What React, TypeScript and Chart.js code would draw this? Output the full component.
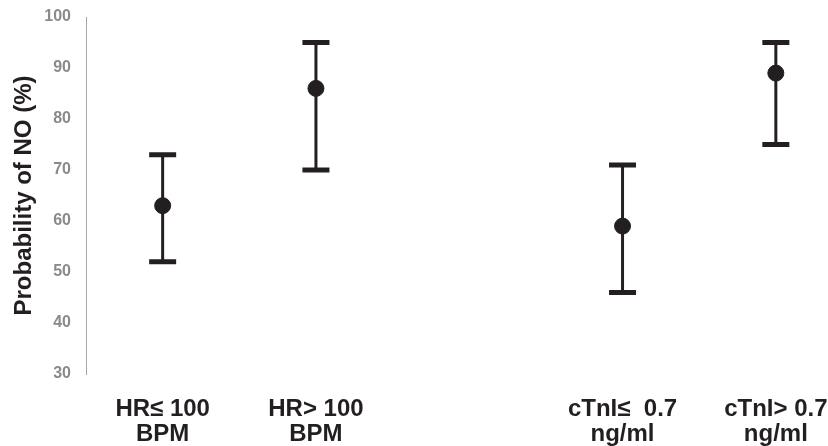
import React, { useEffect, useRef } from "react";
import { Chart, registerables } from "chart.js";

Chart.register(...registerables);

const categories: string[][] = [
  ["HR≤ 100", "BPM"],
  ["HR> 100", "BPM"],
  ["cTnI≤  0.7", "ng/ml"],
  ["cTnI> 0.7", "ng/ml"],
];
const xPositions = [1, 2, 4, 5];
const means = [63, 86, 59, 89];
const lower = [52, 70, 46, 75];
const upper = [73, 95, 71, 95];
const yTicks = [30, 40, 50, 60, 70, 80, 90, 100];

const INK = "#231f20";
const FONT = "'Liberation Sans', Arial, Helvetica, sans-serif";

const errorBarPlugin = {
  id: "errorBars",
  beforeDatasetsDraw(chart: any) {
    const { ctx, scales } = chart;
    const xs = scales.x;
    const ys = scales.y;
    ctx.save();
    ctx.strokeStyle = INK;
    xPositions.forEach((xv, i) => {
      const px = xs.getPixelForValue(xv);
      const pLo = ys.getPixelForValue(lower[i]);
      const pHi = ys.getPixelForValue(upper[i]);
      ctx.lineWidth = 3;
      ctx.beginPath();
      ctx.moveTo(px, pLo);
      ctx.lineTo(px, pHi);
      ctx.stroke();
      ctx.lineWidth = 5;
      const half = 13.5;
      ctx.beginPath();
      ctx.moveTo(px - half, pLo);
      ctx.lineTo(px + half, pLo);
      ctx.moveTo(px - half, pHi);
      ctx.lineTo(px + half, pHi);
      ctx.stroke();
    });
    ctx.restore();
  },
};

export default function App() {
  const ref = useRef<HTMLCanvasElement | null>(null);

  useEffect(() => {
    document.body.style.margin = "0";
    if (!ref.current) return;
    const chart = new Chart(ref.current, {
      type: "scatter",
      data: {
        datasets: [
          {
            data: xPositions.map((x, i) => ({ x, y: means[i] })),
            backgroundColor: INK,
            borderColor: INK,
            borderWidth: 1,
            pointRadius: 8,
            pointHoverRadius: 8,
            showLine: false,
          },
        ],
      },
      options: {
        animation: false,
        responsive: true,
        maintainAspectRatio: false,
        layout: { padding: { top: 17, right: 21.5, bottom: 0, left: 0 } },
        plugins: {
          legend: { display: false },
          tooltip: { enabled: false },
        },
        scales: {
          x: {
            type: "linear",
            min: 0.5,
            max: 5.2,
            grid: { display: false, drawTicks: false },
            border: { display: false },
            afterBuildTicks: (scale: any) => {
              scale.ticks = xPositions.map((v) => ({ value: v }));
            },
            afterFit: (scale: any) => {
              scale.height = 72;
              scale.paddingLeft = 0;
              scale.paddingRight = 0;
            },
            ticks: {
              autoSkip: false,
              maxRotation: 0,
              minRotation: 0,
              padding: 23,
              color: INK,
              font: { family: FONT, size: 24, weight: "bold", lineHeight: 1.04 },
              callback: (value: any) => {
                const idx = xPositions.indexOf(Number(value));
                return idx >= 0 ? categories[idx] : "";
              },
            },
          },
          y: {
            type: "linear",
            min: 30,
            max: 100,
            grid: { display: false, drawTicks: false },
            border: { display: true, color: "#a8a8a8", width: 1 },
            afterBuildTicks: (scale: any) => {
              scale.ticks = yTicks.map((v) => ({ value: v }));
            },
            afterFit: (scale: any) => {
              scale.width = 86;
              scale.paddingTop = 0;
              scale.paddingBottom = 0;
            },
            ticks: {
              padding: 15,
              color: "#8a8a8a",
              font: { family: FONT, size: 16, weight: "bold" },
            },
            title: {
              display: true,
              text: "Probability of NO (%)",
              color: INK,
              font: { family: FONT, size: 24, weight: "bold" },
              padding: { top: 10, bottom: 0 },
            },
          },
        },
      },
      plugins: [errorBarPlugin],
    });
    return () => chart.destroy();
  }, []);

  return (
    <div style={{ position: "fixed", left: 0, top: 0, width: 828, height: 446 }}>
      <canvas ref={ref} />
    </div>
  );
}
